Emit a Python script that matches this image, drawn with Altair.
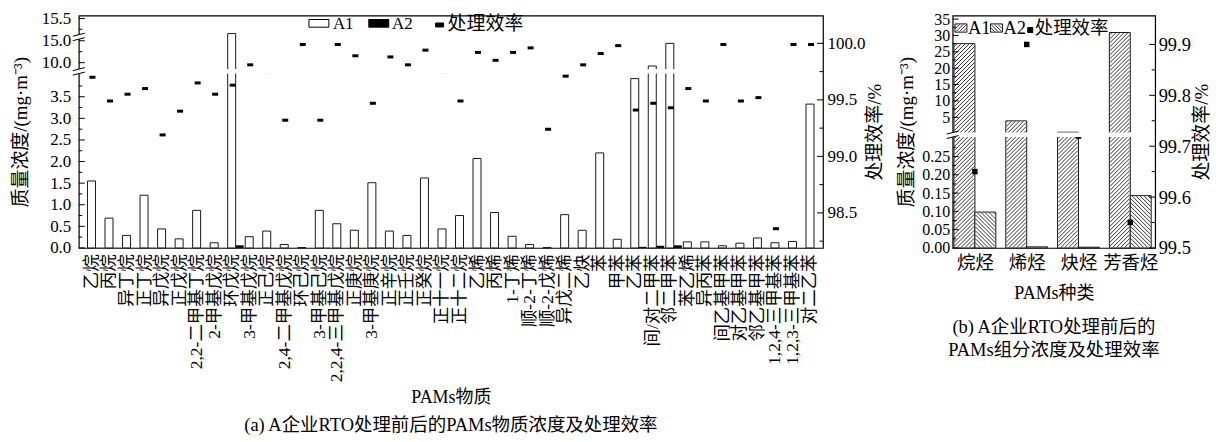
import json
import math

import altair as alt
import pandas as pd

FONT = "Liberation Serif, Noto Sans CJK SC"

# ---------------- (a) individual PAMs compounds ----------------
compounds = ["乙烷", "丙烷", "异丁烷", "正丁烷", "异戊烷", "正戊烷", "2,2-二甲基丁烷", "2-甲基戊烷",
             "环戊烷", "3-甲基戊烷", "正己烷", "2,4-二甲基戊烷", "环己烷", "3-甲基己烷",
             "2,2,4-三甲基戊烷", "正庚烷", "3-甲基庚烷", "正辛烷", "正壬烷", "正癸烷", "正十一烷",
             "正十二烷", "乙烯", "丙烯", "1-丁烯", "顺-2-丁烯", "顺-2-戊烯", "异戊二烯", "乙炔", "苯",
             "甲苯", "乙苯", "间/对二甲苯", "邻二甲苯", "苯乙烯", "异丙苯", "间乙基甲苯", "对乙基甲苯",
             "邻乙基甲苯", "1,2,4-三甲基苯", "1,2,3-三甲基苯", "对二乙苯"]
# inlet (A1) and outlet (A2) mass concentration, mg/m3
a1_conc = [1.55, 0.69, 0.29, 1.22, 0.44, 0.21, 0.87, 0.12, 15.15, 0.26, 0.39, 0.08, 0.01, 0.87,
           0.56, 0.41, 1.51, 0.39, 0.29, 1.62, 0.44, 0.75, 2.07, 0.82, 0.27, 0.08, 0.01, 0.77,
           0.41, 2.20, 0.20, 3.92, 9.25, 14.40, 0.14, 0.14, 0.05, 0.11, 0.23, 0.12, 0.15, 3.33]
a2_conc = [0.005, 0.004, 0.001, 0.005, 0.004, 0.001, 0.003, 0.001, 0.06, 0.001, 0.001, 0.001, 0.0, 0.006,
           0.0, 0.0, 0.008, 0.0, 0.0, 0.001, 0.001, 0.004, 0.002, 0.001, 0.0, 0.0, 0.0, 0.002,
           0.001, 0.002, 0.0, 0.025, 0.05, 0.06, 0.001, 0.001, 0.0, 0.001, 0.001, 0.002, 0.0, 0.001]
# removal efficiency, %
efficiency = [99.70, 99.49, 99.55, 99.60, 99.19, 99.40, 99.65, 99.55, 99.63, 99.81, 99.75, 99.32,
              99.99, 99.32, 99.99, 99.89, 99.47, 99.88, 99.81, 99.94, 99.75, 99.49, 99.92, 99.85,
              99.92, 99.96, 99.24, 99.71, 99.81, 99.91, 99.98, 99.41, 99.47, 99.43, 99.60, 99.49,
              99.99, 99.49, 99.52, 98.36, 99.99, 99.99]

# ---------------- (b) PAMs classes ----------------
classes = ["烷烃", "烯烃", "炔烃", "芳香烃"]
class_a1 = [27.5, 3.9, 0.42, 30.9]
class_a2 = [0.098, 0.003, 0.002, 0.143]
class_eff = [99.65, 99.90, 99.72, 99.55]

# ---------------- geometry of the two plot areas ----------------
WA, WB, H = 746, 203, 233
XA_DOM = [-0.723, 41.74]
XB_DOM = [-0.43, 3.48]


# broken concentration axis of (a): height in px above the baseline
def conc_a(v):
    if v <= 5:
        return 43.3 * v
    if v <= 15:
        return 185.7 + 4.4 * (v - 10)
    return 208.4 + 43.2 * (v - 15)


def eff_a(v):
    return (v - 98.19) * 113.3


# broken concentration axis of (b)
def conc_b(v):
    if v <= 0.31:
        return 366.7 * v
    return 131.0 + 3.28 * (v - 5)


def eff_b(v):
    return (v - 99.5) * 510.0


LABEL_A = ("datum.value < 180 ? format(datum.value/43.3, '.1f') : "
           "(datum.value < 200 ? format(10 + (datum.value-185.7)/4.4, '.1f') : "
           "format(15 + (datum.value-208.4)/43.2, '.1f'))")
LABEL_B = ("datum.value < 120 ? format(datum.value/366.7, '.2f') : "
           "format(5 + (datum.value-131)/3.28, '.0f')")

one = pd.DataFrame({"k": [0]})


def inward_ticks(pix, x0, x1, yscale):
    return alt.Chart(pd.DataFrame({"p": pix})).mark_rule(color="black", strokeWidth=1).encode(
        x=alt.value(x0), x2=alt.value(x1), y=alt.Y("p:Q", scale=yscale, axis=None))


def break_marks(positions, yscale, gap=4.5, rise=3.0, half=6):
    rows = []
    for p in positions:
        for s in (-1, 1):
            base = p + s * gap / 2
            rows.append({"y1": base - rise / 2, "y2": base + rise / 2})
    return alt.Chart(pd.DataFrame(rows)).mark_rule(color="black", strokeWidth=1).encode(
        x=alt.value(-half), x2=alt.value(half),
        y=alt.Y("y1:Q", scale=yscale, axis=None), y2="y2:Q")


def white_band(p, x0, x1, yscale, gap=4.5):
    return alt.Chart(one).mark_rect(fill="white", stroke=None).encode(
        x=alt.value(x0), x2=alt.value(x1),
        y=alt.YDatum(p - gap / 2, scale=yscale, axis=None), y2=alt.Y2Datum(p + gap / 2))


def legend_text(txt, x, y, size):
    return alt.Chart(one).mark_text(text=txt, align="left", baseline="middle", font=FONT,
                                    fontSize=size, color="black").encode(
        x=alt.value(x), y=alt.value(y))


def legend_box(x0, x1, y0, y1, fill, stroke):
    return alt.Chart(one).mark_rect(fill=fill, stroke=stroke, strokeWidth=1).encode(
        x=alt.value(x0), x2=alt.value(x1), y=alt.value(y0), y2=alt.value(y1))


# ======================= panel (a) =======================
df_a = pd.DataFrame({"idx": range(len(compounds)), "name": compounds,
                     "A1": a1_conc, "A2": a2_conc, "eff": efficiency})
df_a["p1"] = [conc_a(v) for v in df_a["A1"]]
df_a["p2"] = [conc_a(v) for v in df_a["A2"]]
df_a["pe"] = [eff_a(v) for v in df_a["eff"]]
df_a["a1_l"] = df_a["idx"] - 0.228
df_a["a1_r"] = df_a["idx"] + 0.228
df_a["a2_r"] = df_a["idx"] + 0.683
df_a["xe"] = df_a["idx"] + 0.057

ys_a = alt.Scale(domain=[0, H], nice=False, zero=False)
xs_a = alt.Scale(domain=XA_DOM, nice=False, zero=False)

major_a = [0, 0.5, 1.0, 1.5, 2.0, 2.5, 3.0, 3.5, 10.0, 15.0, 15.5]
minor_a = [0.25, 0.75, 1.25, 1.75, 2.25, 2.75, 3.25, 3.75, 12.5, 15.25]
major_ea = [98.5, 99.0, 99.5, 100.0]
minor_ea = [98.25, 98.75, 99.25, 99.75]

x_axis_a = alt.Axis(values=list(range(len(compounds))),
                    labelExpr=f"{json.dumps(compounds, ensure_ascii=False)}[datum.value]",
                    labelAngle=-90, labelFontSize=17.5, labelPadding=6, ticks=False, tickSize=0,
                    domain=False, labelOverlap=False, labelFlush=False,
                    title="PAMs物质", titleFontSize=18, titlePadding=7)
y_axis_a = alt.Axis(values=[conc_a(v) for v in major_a], labelExpr=LABEL_A, ticks=False, tickSize=0,
                    domain=False, labelPadding=8, labelFontSize=17, labelOverlap=False,
                    title="质量浓度/(mg·m⁻³)", titleFontSize=19, titlePadding=11)
r_axis_a = alt.Axis(orient="right", values=[eff_a(v) for v in major_ea],
                    labelExpr="format(98.19 + datum.value/113.3, '.1f')", ticks=False, tickSize=0,
                    domain=False, labelPadding=4, labelFontSize=17, labelOverlap=False,
                    title="处理效率/%", titleFontSize=19, titleAngle=270, titleBaseline="top",
                    titlePadding=0)

bars_a1 = alt.Chart(df_a).mark_bar(fill="white", stroke="#1a1a1a", strokeWidth=1).encode(
    x=alt.X("a1_l:Q", scale=xs_a, axis=x_axis_a), x2="a1_r:Q",
    y=alt.Y("p1:Q", scale=ys_a, axis=y_axis_a), y2=alt.Y2Datum(0))
bars_a2 = alt.Chart(df_a).mark_bar(fill="black", stroke=None).encode(
    x=alt.X("a1_r:Q", scale=xs_a, axis=None), x2="a2_r:Q",
    y=alt.Y("p2:Q", scale=ys_a, axis=None), y2=alt.Y2Datum(0))
eff_marks_a = alt.Chart(df_a).mark_tick(orient="horizontal", size=6, thickness=3, color="black",
                                        opacity=1).encode(
    x=alt.X("xe:Q", scale=xs_a, axis=None),
    y=alt.Y("pe:Q", scale=ys_a, axis=r_axis_a))

BRK_A = [177.0, 211.5]

panel_a = alt.layer(
    bars_a1, bars_a2, eff_marks_a,
    white_band(BRK_A[0], -4, WA - 1, ys_a),
    white_band(BRK_A[1], -3, 3, ys_a),
    break_marks(BRK_A, ys_a),
    inward_ticks([conc_a(v) for v in major_a], 0, 6, ys_a),
    inward_ticks([conc_a(v) for v in minor_a], 0, 3.5, ys_a),
    inward_ticks([eff_a(v) for v in major_ea], WA - 6, WA, ys_a),
    inward_ticks([eff_a(v) for v in minor_ea], WA - 3.5, WA, ys_a),
    legend_box(230.7, 250.7, 4, 11.7, "white", "black"),
    legend_text("A1", 254.7, 8.6, 17),
    legend_box(290.7, 310.7, 4, 11.7, "black", "black"),
    legend_text("A2", 314, 8.6, 17),
    legend_box(357.7, 365.7, 7.5, 11.5, "black", "black"),
    legend_text("处理效率", 369.7, 8.6, 19),
).resolve_axis(x="independent", y="independent").properties(
    width=WA, height=H,
    title=alt.TitleParams("(a) A企业RTO处理前后的PAMs物质浓度及处理效率", orient="bottom",
                          anchor="middle", frame="group", fontSize=18.5, offset=9))

# ======================= panel (b) =======================
df_b = pd.DataFrame({"idx": range(len(classes)), "cls": classes,
                     "A1": class_a1, "A2": class_a2, "eff": class_eff})
df_b["p1"] = [conc_b(v) for v in df_b["A1"]]
df_b["p2"] = [conc_b(v) for v in df_b["A2"]]
df_b["pe"] = [eff_b(v) for v in df_b["eff"]]
df_b["a1_l"] = df_b["idx"] - 0.404
df_b["a2_r"] = df_b["idx"] + 0.404

ys_b = alt.Scale(domain=[0, H], nice=False, zero=False)
xs_b = alt.Scale(domain=XB_DOM, nice=False, zero=False)
PX_B = WB / (XB_DOM[1] - XB_DOM[0])


def to_px(xv):
    return (xv - XB_DOM[0]) * PX_B


def to_xv(px):
    return XB_DOM[0] + px / PX_B


def hatch(x0, x1, y0, y1, rising, step=4.0, inset=0.6):
    """Diagonal hatch segments clipped to a rectangle (x in px, y in px above baseline)."""
    x0, x1, y0, y1 = x0 + inset, x1 - inset, y0 + inset, y1 - inset
    segs = []
    if x1 <= x0 or y1 <= y0:
        return segs
    cmin, cmax = (y0 - x1, y1 - x0) if rising else (y0 + x0, y1 + x1)
    k = math.ceil(cmin / step)
    while k * step <= cmax:
        c = k * step
        if rising:
            xs, xe = max(x0, y0 - c), min(x1, y1 - c)
            if xe > xs:
                segs.append((xs, xs + c, xe, xe + c))
        else:
            xs, xe = max(x0, c - y1), min(x1, c - y0)
            if xe > xs:
                segs.append((xs, c - xs, xe, c - xe))
        k += 1
    return segs


hatch_rows = []
for _, r in df_b.iterrows():
    for (xa, xb, top, rising) in ((r["a1_l"], r["idx"], r["p1"], True),
                                  (r["idx"], r["a2_r"], r["p2"], False)):
        for (sx, sy, ex, ey) in hatch(to_px(xa), to_px(xb), 0, top, rising):
            hatch_rows.append({"x1": to_xv(sx), "y1": sy, "x2": to_xv(ex), "y2": ey})

# legend swatches of (b), given in px from the top-left corner of the plot
swatches_b = [(2.3, 14.3, True), (38.0, 50.0, False)]
sw_top, sw_bot = 8.4, 16.7
for (sx0, sx1, rising) in swatches_b:
    for (sx, sy, ex, ey) in hatch(sx0, sx1, H - sw_bot, H - sw_top, rising, step=3.5, inset=0.5):
        hatch_rows.append({"x1": to_xv(sx), "y1": sy, "x2": to_xv(ex), "y2": ey})
df_hatch = pd.DataFrame(hatch_rows)

major_b = [0, 0.05, 0.10, 0.15, 0.20, 0.25, 5, 10, 15, 20, 25, 30, 35]
minor_b = [0.025, 0.075, 0.125, 0.175, 0.225, 0.275, 7.5, 12.5, 17.5, 22.5, 27.5, 32.5]
major_eb = [99.5, 99.6, 99.7, 99.8, 99.9]
minor_eb = [99.55, 99.65, 99.75, 99.85]

x_axis_b = alt.Axis(values=list(range(len(classes))),
                    labelExpr=f"{json.dumps(classes, ensure_ascii=False)}[datum.value]",
                    labelAngle=0, labelFontSize=18.5, labelPadding=6, ticks=False, tickSize=0,
                    domain=False, labelOverlap=False, labelFlush=False,
                    title="PAMs种类", titleFontSize=18, titlePadding=12)
y_axis_b = alt.Axis(values=[conc_b(v) for v in major_b], labelExpr=LABEL_B, ticks=False, tickSize=0,
                    domain=False, labelPadding=3, labelFontSize=16, labelOverlap=False,
                    title="质量浓度/(mg·m⁻³)", titleFontSize=19, titlePadding=5)
r_axis_b = alt.Axis(orient="right", values=[eff_b(v) for v in major_eb],
                    labelExpr="format(99.5 + datum.value/510, '.1f')", ticks=False, tickSize=0,
                    domain=False, labelPadding=3, labelFontSize=18.5, labelOverlap=False,
                    title="处理效率/%", titleFontSize=19, titleAngle=270, titleBaseline="top",
                    titlePadding=2)

bars_b1 = alt.Chart(df_b).mark_bar(fill="white", stroke="#1a1a1a", strokeWidth=1).encode(
    x=alt.X("a1_l:Q", scale=xs_b, axis=x_axis_b), x2="idx:Q",
    y=alt.Y("p1:Q", scale=ys_b, axis=y_axis_b), y2=alt.Y2Datum(0))
bars_b2 = alt.Chart(df_b).mark_bar(fill="white", stroke="#1a1a1a", strokeWidth=1).encode(
    x=alt.X("idx:Q", scale=xs_b, axis=None), x2="a2_r:Q",
    y=alt.Y("p2:Q", scale=ys_b, axis=None), y2=alt.Y2Datum(0))
hatch_b = alt.Chart(df_hatch).mark_rule(color="#1a1a1a", strokeWidth=0.9).encode(
    x=alt.X("x1:Q", scale=xs_b, axis=None), x2="x2:Q",
    y=alt.Y("y1:Q", scale=ys_b, axis=None), y2="y2:Q")
eff_marks_b = alt.Chart(df_b).mark_square(size=30, color="black", opacity=1).encode(
    x=alt.X("idx:Q", scale=xs_b, axis=None),
    y=alt.Y("pe:Q", scale=ys_b, axis=r_axis_b))

BRK_B = 113.4

panel_b = alt.layer(
    bars_b1, bars_b2, hatch_b, eff_marks_b,
    white_band(BRK_B, -4, WB - 1, ys_b),
    break_marks([BRK_B], ys_b),
    inward_ticks([conc_b(v) for v in major_b], 0, 6, ys_b),
    inward_ticks([conc_b(v) for v in minor_b], 0, 3.5, ys_b),
    inward_ticks([eff_b(v) for v in major_eb], WB - 6, WB, ys_b),
    inward_ticks([eff_b(v) for v in minor_eb], WB - 3.5, WB, ys_b),
    legend_box(swatches_b[0][0], swatches_b[0][1], sw_top, sw_bot, "none", "#1a1a1a"),
    legend_text("A1", 15.3, 12.7, 18.5),
    legend_box(swatches_b[1][0], swatches_b[1][1], sw_top, sw_bot, "none", "#1a1a1a"),
    legend_text("A2", 51.0, 12.7, 18.5),
    legend_box(75.3, 80.3, 12.0, 17.0, "black", "black"),
    legend_text("处理效率", 82.3, 12.7, 18.5),
).resolve_axis(x="independent", y="independent").properties(
    width=WB, height=H,
    title=alt.TitleParams(["(b) A企业RTO处理前后的", "PAMs组分浓度及处理效率"], orient="bottom",
                          anchor="middle", frame="group", fontSize=18.5, lineHeight=23,
                          offset=16))

chart = alt.hconcat(panel_a, panel_b, spacing=130, bounds="flush").properties(
    padding={"left": 10, "top": 8, "right": 4, "bottom": 2}
).configure_view(
    stroke="black", strokeWidth=1.2
).configure_axis(
    grid=False, labelFont=FONT, titleFont=FONT, labelColor="black", titleColor="black",
    titleFontWeight="normal"
).configure_title(
    font=FONT, fontWeight="normal", color="black"
)

chart.save("out.html", embed_options={"renderer": "svg", "actions": False})
